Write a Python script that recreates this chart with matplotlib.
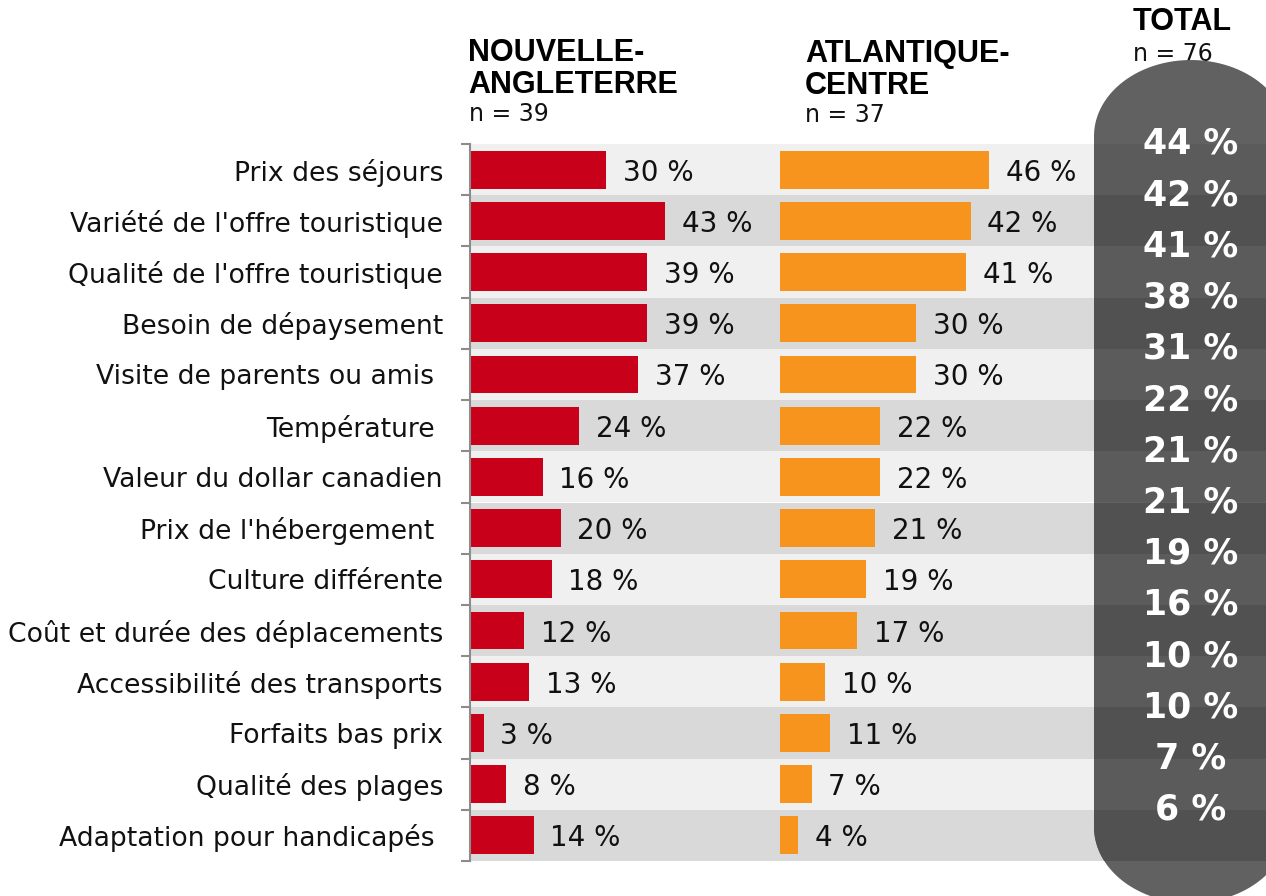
import numpy as np
import matplotlib
matplotlib.use("Agg")
import matplotlib.pyplot as plt
from matplotlib.path import Path
from matplotlib.patches import PathPatch
from matplotlib.transforms import IdentityTransform

# ---- data ----
categories = [
    "Prix des séjours",
    "Variété de l'offre touristique",
    "Qualité de l'offre touristique",
    "Besoin de dépaysement",
    "Visite de parents ou amis ",
    "Température ",
    "Valeur du dollar canadien",
    "Prix de l'hébergement ",
    "Culture différente",
    "Coût et durée des déplacements",
    "Accessibilité des transports",
    "Forfaits bas prix",
    "Qualité des plages",
    "Adaptation pour handicapés ",
]
nouvelle_angleterre = [30, 43, 39, 39, 37, 24, 16, 20, 18, 12, 13, 3, 8, 14]
atlantique_centre = [46, 42, 41, 30, 30, 22, 22, 21, 19, 17, 10, 11, 7, 4]
total = [44, 42, 41, 38, 31, 22, 21, 21, 19, 16, 10, 10, 7, 6]

header_ne = ["NOUVELLE-", "ANGLETERRE"]
header_ac = ["ATLANTIQUE-", "CENTRE"]
n_ne, n_ac, n_total = 39, 37, 76

# ---- styling ----
RED = "#c8001a"
ORANGE = "#f7941e"
BAND = ["#f0f0f0", "#d9d9d9"]
PILL = "#616161"
PILL_BAND = ["#5b5b5b", "#515151"]
SPINE = "#8c8c8c"
TXT = "#111111"

W, H = 1266, 896
fig = plt.figure(figsize=(W / 100, H / 100), dpi=100)
fig.patch.set_facecolor("white")


def fx(px):
    return px / W


def fy(py):
    return 1 - py / H


ROW_TOP, ROW_BOT = 144, 861
PX_PER_PCT = 4.54
n = len(categories)
y = np.arange(n)

# background bands + total pill
bg = fig.add_axes([fx(470), fy(ROW_BOT), fx(W - 470), (ROW_BOT - ROW_TOP) / H], zorder=0)
bg.set_xlim(0, 1)
bg.set_ylim(n - 0.5, -0.5)
bg.axis("off")
for i in range(n):
    bg.axhspan(i - 0.5, i + 0.5, color=BAND[i % 2], lw=0, zorder=1)

# stadium-shaped pill in pixel space (origin at bottom-left)
cx, rx, ry = 1191, 97, 76
top, bot = 60, 903
t1 = np.linspace(0, np.pi, 60)
t2 = np.linspace(np.pi, 2 * np.pi, 60)
top_arc = np.column_stack([cx + rx * np.cos(t1), (H - (top + ry)) + ry * np.sin(t1)])
bot_arc = np.column_stack([cx + rx * np.cos(t2), (H - (bot - ry)) + ry * np.sin(t2)])
verts = np.vstack([top_arc, bot_arc, top_arc[:1]])
codes = [Path.MOVETO] + [Path.LINETO] * (len(verts) - 2) + [Path.CLOSEPOLY]
pill = PathPatch(Path(verts, codes), fc=PILL, ec="none",
                 transform=IdentityTransform(), clip_on=False, zorder=3)
bg.add_patch(pill)
for i in range(n):
    s = bg.axhspan(i - 0.5, i + 0.5, color=PILL_BAND[i % 2], lw=0, zorder=4)
    s.set_clip_path(pill)

# "n = 76" sits partly under the pill
bg.text(fx(1133), fy(61), f"n = {n_total}", transform=fig.transFigure,
        fontsize=17, color=TXT, family="DejaVu Sans", va="baseline",
        ha="left", zorder=2, clip_on=False)

tx = (cx - 470) / (W - 470)
for i, v in enumerate(total):
    bg.text(tx, i - 0.5, f"{v} %", ha="center", va="center", fontsize=25,
            fontweight="bold", color="white", family="DejaVu Sans",
            zorder=5, clip_on=False)

# Nouvelle-Angleterre bars
ax1 = fig.add_axes([fx(470), fy(ROW_BOT), fx(310), (ROW_BOT - ROW_TOP) / H], zorder=2)
ax1.patch.set_visible(False)
ax1.barh(y, nouvelle_angleterre, height=0.74, color=RED, zorder=2)
ax1.set_xlim(0, 310 / PX_PER_PCT)
ax1.set_ylim(n - 0.5, -0.5)
for sp in ["top", "right", "bottom"]:
    ax1.spines[sp].set_visible(False)
ax1.spines["left"].set_color(SPINE)
ax1.spines["left"].set_linewidth(1.5)
ax1.set_xticks([])
ax1.set_yticks(y)
ax1.set_yticklabels(categories, fontsize=19.2, color=TXT, family="DejaVu Sans")
ax1.set_yticks(np.arange(-0.5, n, 1), minor=True)
ax1.tick_params(axis="y", which="major", length=0, pad=19.5)
ax1.tick_params(axis="y", which="minor", length=6.5, width=1.5, color=SPINE)
for i, v in enumerate(nouvelle_angleterre):
    ax1.annotate(f"{v} %", (v, i), xytext=(12, 0), textcoords="offset points",
                 va="center_baseline", ha="left", fontsize=20, color=TXT,
                 family="DejaVu Sans")

# Atlantique-Centre bars
ax2 = fig.add_axes([fx(780), fy(ROW_BOT), fx(314), (ROW_BOT - ROW_TOP) / H], zorder=2)
ax2.patch.set_visible(False)
ax2.barh(y, atlantique_centre, height=0.74, color=ORANGE, zorder=2)
ax2.set_xlim(0, 314 / PX_PER_PCT)
ax2.set_ylim(n - 0.5, -0.5)
ax2.axis("off")
for i, v in enumerate(atlantique_centre):
    ax2.annotate(f"{v} %", (v, i), xytext=(12, 0), textcoords="offset points",
                 va="center_baseline", ha="left", fontsize=20, color=TXT,
                 family="DejaVu Sans")

# column headers
hfont = dict(fontsize=22, fontweight="bold", color="black",
             family=["Liberation Sans", "DejaVu Sans"], va="baseline", ha="left")
for k, line in enumerate(header_ne):
    fig.text(fx(468), fy(61 + 32 * k), line, **hfont)
fig.text(fx(469), fy(121), f"n = {n_ne}", fontsize=17, color=TXT,
         family="DejaVu Sans", va="baseline")
for k, line in enumerate(header_ac):
    fig.text(fx(805), fy(62 + 32 * k), line, **hfont)
fig.text(fx(805), fy(122), f"n = {n_ac}", fontsize=17, color=TXT,
         family="DejaVu Sans", va="baseline")
fig.text(fx(1133), fy(30), "TOTAL", **hfont)

fig.savefig("out.png", dpi=100)
